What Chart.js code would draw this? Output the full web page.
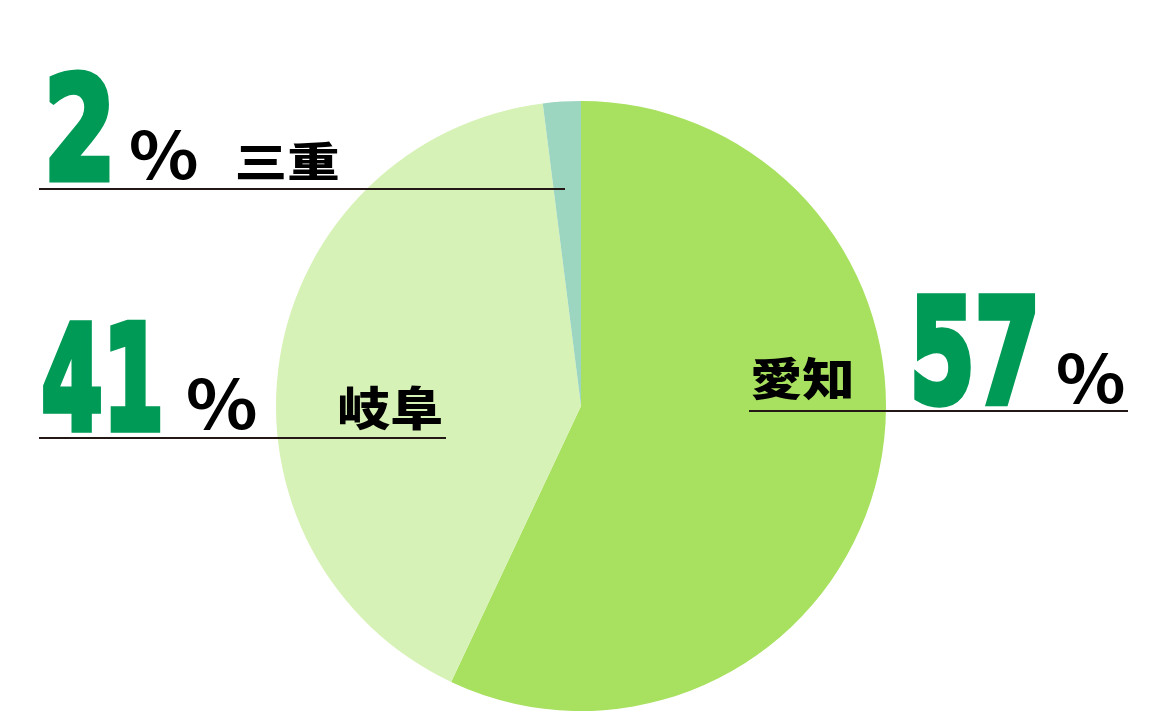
<!DOCTYPE html>
<html>
<head>
<meta charset="utf-8">
<script src="https://cdn.jsdelivr.net/npm/chart.js@4"></script>
<style>
html,body{margin:0;padding:0;background:#fff;}
#c{display:block;}
</style>
</head>
<body>
<canvas id="c" width="1168" height="712"></canvas>
<script>
// ---- data ----
const categories = ['愛知', '岐阜', '三重'];
const values = [57, 41, 2];
const sliceColors = ['#a8e05f', '#d7f2b6', '#9dd6c0'];

// ---- label layout (positions only) ----
const labelLayout = [
  { num: [913, 293, 123, 113], pct: [1058, 354, 66, 50], name: [752, 357, 99, 44], line: [749, 411, 1128] },
  { num: [42, 320, 119, 113],  pct: [188, 379, 68, 51],  name: [340, 385, 101, 45], line: [39, 438, 446] },
  { num: [48, 70, 62, 112],    pct: [131, 131, 66, 49],  name: [238, 141, 100, 39], line: [39, 189, 565] }
];

function drawFit(ctx, text, font, color, box, strokePx) {
  const sw = strokePx || 0;
  const x = box[0] + sw / 2, y = box[1] + sw / 2, w = box[2] - sw, h = box[3] - sw;
  ctx.save();
  ctx.font = font;
  ctx.textAlign = 'left';
  ctx.textBaseline = 'alphabetic';
  const m = ctx.measureText(text);
  const tw = m.actualBoundingBoxLeft + m.actualBoundingBoxRight;
  const th = m.actualBoundingBoxAscent + m.actualBoundingBoxDescent;
  const sx = w / tw, sy = h / th;
  ctx.translate(x, y);
  ctx.scale(sx, sy);
  ctx.fillStyle = color;
  ctx.fillText(text, m.actualBoundingBoxLeft, m.actualBoundingBoxAscent);
  if (sw > 0) {
    ctx.strokeStyle = color;
    ctx.lineJoin = 'miter';
    ctx.miterLimit = 2;
    ctx.lineWidth = sw / Math.sqrt(sx * sy);
    ctx.strokeText(text, m.actualBoundingBoxLeft, m.actualBoundingBoxAscent);
  }
  ctx.restore();
}

const labelPlugin = {
  id: 'labels',
  afterDraw(chart) {
    const ctx = chart.ctx;
    const data = chart.data.datasets[0].data;
    chart.data.labels.forEach((name, i) => {
      const L = labelLayout[i];
      ctx.save();
      ctx.strokeStyle = '#231815';
      ctx.lineWidth = 2;
      ctx.beginPath();
      ctx.moveTo(L.line[0], L.line[1]);
      ctx.lineTo(L.line[2], L.line[1]);
      ctx.stroke();
      ctx.restore();
      drawFit(ctx, String(data[i]), 'bold 100px "DejaVu Sans"', '#009a57', L.num, 6);
      drawFit(ctx, '%', '700 100px "Noto Sans CJK JP"', '#000', L.pct, 0);
      drawFit(ctx, name, '900 100px "Noto Sans CJK JP"', '#000', L.name, 0);
    });
  }
};

new Chart(document.getElementById('c'), {
  type: 'pie',
  data: {
    labels: categories,
    datasets: [{
      data: values,
      backgroundColor: sliceColors,
      borderWidth: 0
    }]
  },
  options: {
    responsive: false,
    animation: false,
    devicePixelRatio: 1,
    layout: { padding: { top: 101, bottom: 1, left: 276, right: 282 } },
    plugins: { legend: { display: false }, tooltip: { enabled: false } }
  },
  plugins: [labelPlugin]
});
</script>
</body>
</html>
